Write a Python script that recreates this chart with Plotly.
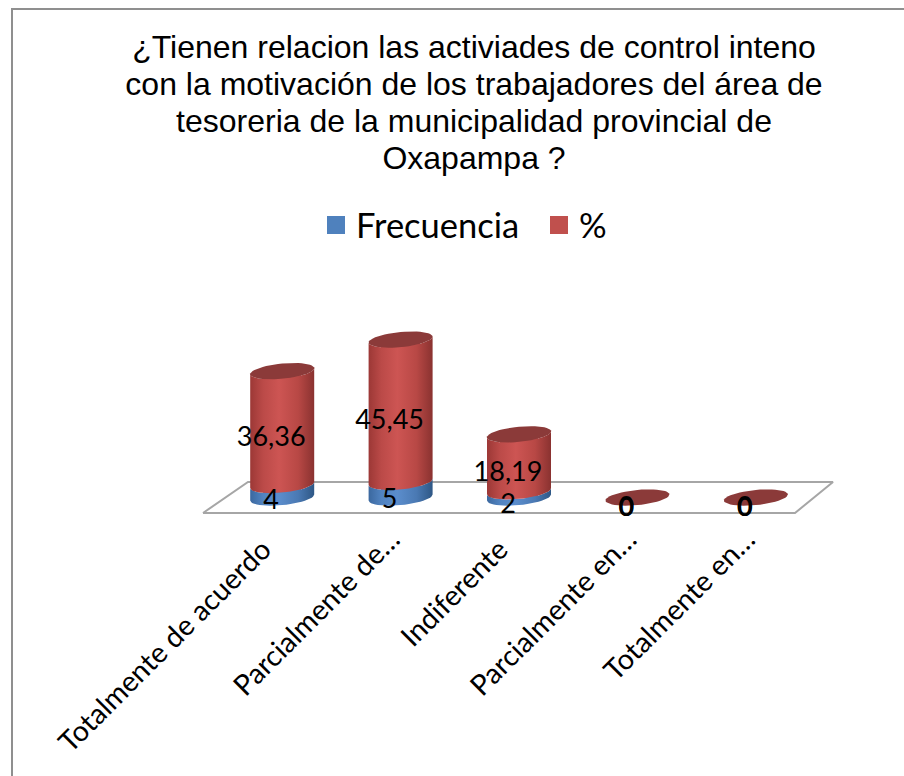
import math
import plotly.graph_objects as go

TITLE_LINES = [
    "¿Tienen relacion las activiades de control inteno",
    "con la motivación de los trabajadores del área de",
    "tesoreria de la municipalidad provincial de",
    "Oxapampa ?",
]
CATEGORIES = [
    "Totalmente de acuerdo",
    "Parcialmente de…",
    "Indiferente",
    "Parcialmente en…",
    "Totalmente en…",
]
FRECUENCIA = [4, 5, 2, 0, 0]
PORCENTAJE = [36.36, 45.45, 18.19, 0, 0]
FRECUENCIA_TXT = ["4", "5", "2", "0", "0"]
PORCENTAJE_TXT = ["36,36", "45,45", "18,19", "0", "0"]

W, H = 904, 776
L, R, T, B = 195, 845, 250, 516        # plot area in page pixels
FLOOR_L, FLOOR_R = 203, 795            # ends of the floor's front edge
FLOOR_FRONT, FLOOR_BACK = 513, 482     # pixel rows of the floor edges
PX_X = (FLOOR_R - FLOOR_L) / 5         # pixels per category
Y0_PX = 497.5                          # pixel of value 0 on the bar centreline
PX_Y = 3.13                            # pixels per value unit
X_MIN = -0.5 - (FLOOR_L - L) / PX_X
X_MAX = 4.5 + (R - FLOOR_R) / PX_X
Y_MIN = -(B - Y0_PX) / PX_Y
Y_MAX = (Y0_PX - T) / PX_Y
Y_FRONT = -(FLOOR_FRONT - Y0_PX) / PX_Y
Y_BACK = (Y0_PX - FLOOR_BACK) / PX_Y

DEPTH = 20 / PX_X                      # bars stand behind the front edge
A = 32 / PX_X                          # cylinder half width
K = 3.0 / PX_Y                         # ellipse tilt
E = 7.6 / PX_Y                         # ellipse half height
LABEL_DX = -11 / PX_X
LABEL_DY = -11.5 / PX_Y
TICK_SHIFT = 11 / PX_X

FONT = "Lato"
RED_SCALE = [[0, "#9c3836"], [0.2, "#bb4a48"], [0.45, "#cd5553"], [0.75, "#b84845"], [1, "#8a3230"]]
BLUE_SCALE = [[0, "#3b689f"], [0.2, "#5183c0"], [0.45, "#5b8dcc"], [0.75, "#4a79b3"], [1, "#2e5785"]]
RED, BLUE, CAP = "#c0504d", "#4f81bd", "#8b3a39"
ANGLES = [math.pi * k / 24 for k in range(25)]

def front_arc(xc, v, reverse=False):
    ts = ANGLES[::-1] if reverse else ANGLES
    return ([xc + A * math.cos(t) for t in ts],
            [v + K * math.cos(t) - E * math.sin(t) for t in ts])

def body(xc, lo, hi):
    xb, yb = front_arc(xc, lo, reverse=True)   # left to right along the bottom
    xt, yt = front_arc(xc, hi)                 # right to left along the top
    return xb + xt + xb[:1], yb + yt + yb[:1]

def cap(xc, v):
    ts = [2 * math.pi * k / 48 for k in range(49)]
    return ([xc + A * math.cos(t) for t in ts],
            [v + K * math.cos(t) - E * math.sin(t) for t in ts])

centres = [i + DEPTH for i in range(len(CATEGORIES))]
fig = go.Figure()

# plain stacked bars: the data skeleton of the cylinders
fig.add_bar(x=centres, y=FRECUENCIA, width=1.2 * A, marker=dict(color=BLUE, line_width=0),
            showlegend=False, hoverinfo="skip")
fig.add_bar(x=centres, y=PORCENTAJE, width=1.2 * A, marker=dict(color=RED, line_width=0),
            showlegend=False, hoverinfo="skip")

# floor
fig.add_scatter(
    x=[-0.5, 4.5, 4.5 + 38 / PX_X, -0.5 + 45 / PX_X, -0.5],
    y=[Y_FRONT, Y_FRONT, Y_BACK, Y_BACK, Y_FRONT],
    mode="lines", line=dict(color="#a6a6a6", width=2), cliponaxis=False,
    showlegend=False, hoverinfo="skip",
)

# shaded cylinder bodies and caps
for xc, f, p in zip(centres, FRECUENCIA, PORCENTAJE):
    if f > 0:
        x, y = body(xc, 0, f)
        fig.add_scatter(x=x, y=y, mode="lines", line_width=0, fill="toself",
                        fillgradient=dict(type="horizontal", colorscale=BLUE_SCALE),
                        showlegend=False, hoverinfo="skip", cliponaxis=False)
    if p > 0:
        x, y = body(xc, f, f + p)
        fig.add_scatter(x=x, y=y, mode="lines", line_width=0, fill="toself",
                        fillgradient=dict(type="horizontal", colorscale=RED_SCALE),
                        showlegend=False, hoverinfo="skip", cliponaxis=False)
    x, y = cap(xc, f + p)
    fig.add_scatter(x=x, y=y, mode="lines", line_width=0, fill="toself", fillcolor=CAP,
                    showlegend=False, hoverinfo="skip", cliponaxis=False)

# value labels
label_x = [c + LABEL_DX for c in centres]
fig.add_scatter(x=label_x, y=[v / 2 + LABEL_DY for v in FRECUENCIA], text=FRECUENCIA_TXT,
                mode="text", textposition="middle center", cliponaxis=False,
                textfont=dict(family=FONT, size=27, color="#000000"),
                showlegend=False, hoverinfo="skip")
fig.add_scatter(x=label_x, y=[f + p / 2 + LABEL_DY for f, p in zip(FRECUENCIA, PORCENTAJE)],
                text=PORCENTAJE_TXT, mode="text", textposition="middle center", cliponaxis=False,
                textfont=dict(family=FONT, size=27, color="#000000",
                              weight=[700 if p == 0 else 400 for p in PORCENTAJE]),
                showlegend=False, hoverinfo="skip")

# legend keys
fig.add_scatter(x=[None], y=[None], name="Frecuencia", mode="markers",
                marker=dict(symbol="square", size=16, color=BLUE, line=dict(color=BLUE, width=2)))
fig.add_scatter(x=[None], y=[None], name="%", mode="markers",
                marker=dict(symbol="square", size=16, color=RED, line=dict(color=RED, width=2)))

px = lambda p: (p - L) / (R - L)
py = lambda p: (B - p) / (B - T)
fig.add_shape(type="path", xref="paper", yref="paper",
              path=f"M {px(12)} {py(H + 5)} L {px(12)} {py(9)} L {px(W + 5)} {py(9)}",
              line=dict(color="#8f8f8f", width=2), layer="below")

title_text = "<br>".join(f'<span style="font-size:32px">{t}</span>' for t in TITLE_LINES)
# complete labels stop short of the axis compared with the elided ones
tick_text = [c if c.endswith("…") else c + "\u00a0" * 2 for c in CATEGORIES]

fig.update_layout(
    width=W, height=H,
    margin=dict(l=L, r=W - R, t=T, b=H - B, autoexpand=False),
    barmode="stack", bargap=0,
    paper_bgcolor="#ffffff", plot_bgcolor="rgba(0,0,0,0)",
    title=dict(text=title_text, x=474 / W, xanchor="center", xref="container",
               y=1 - 58 / H, yanchor="top", yref="container",
               font=dict(family="Liberation Sans", size=28.5, color="#000000")),
    legend=dict(orientation="h", x=px(316), xanchor="left", y=py(196), yanchor="top",
                traceorder="normal", entrywidth=178, entrywidthmode="pixels",
                font=dict(family=FONT, size=34.5, color="#000000"),
                itemclick=False, itemdoubleclick=False, bgcolor="rgba(0,0,0,0)"),
    xaxis=dict(range=[X_MIN, X_MAX], tickmode="array",
               tickvals=[i + TICK_SHIFT for i in range(len(CATEGORIES))],
               ticktext=tick_text, tickangle=-45, ticks="", showgrid=False, zeroline=False,
               showline=False, ticklabelstandoff=0,
               tickfont=dict(family=FONT, size=28.5, color="#000000")),
    yaxis=dict(range=[Y_MIN, Y_MAX], visible=False),
    showlegend=True,
)

fig.write_html("out.html", config={"displayModeBar": False},
               post_script="document.body.style.margin='0';document.body.style.overflow='hidden';")
